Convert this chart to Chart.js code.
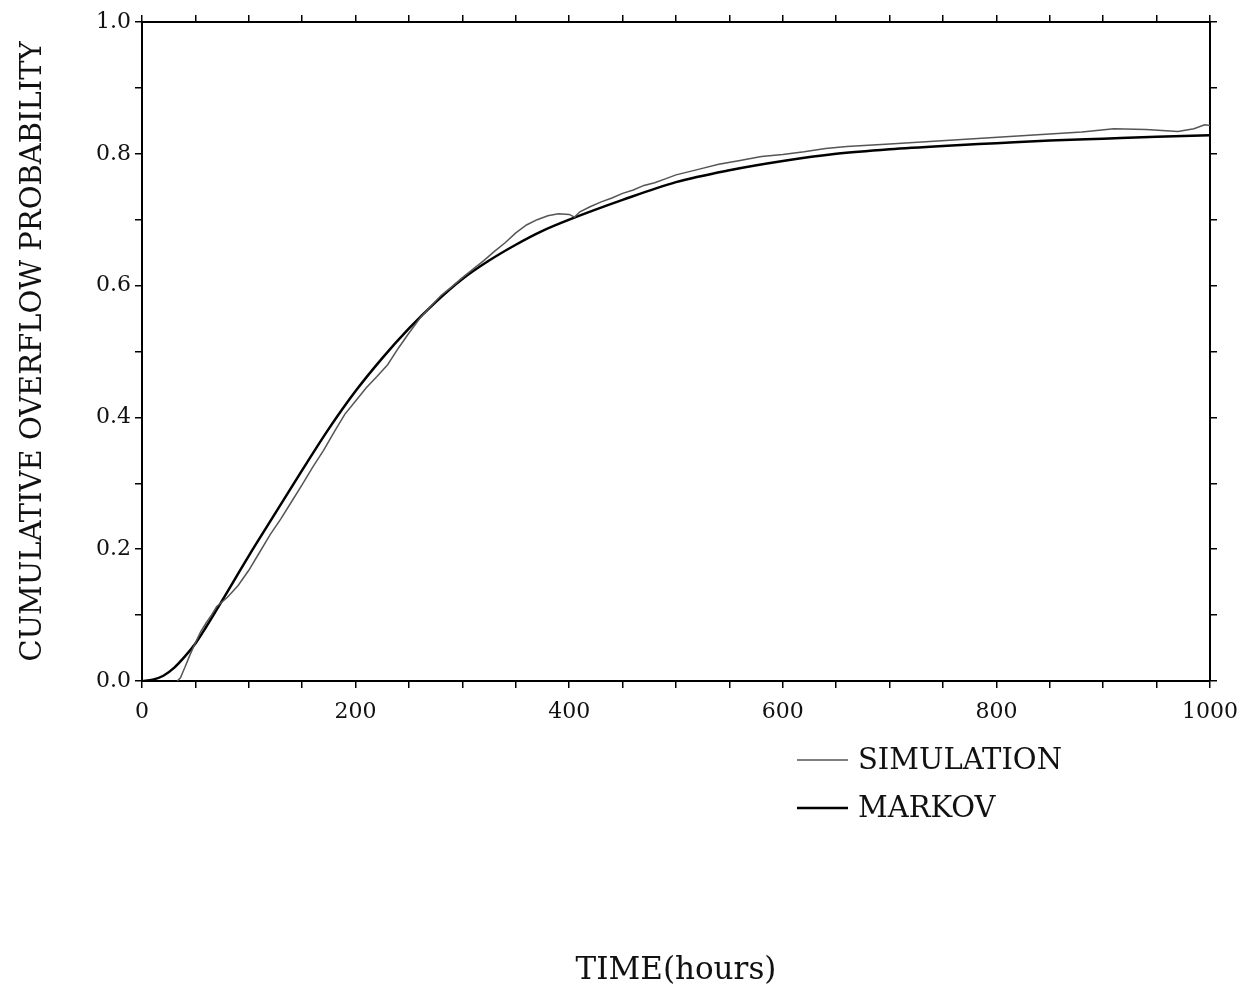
<!DOCTYPE html>
<html>
<head>
<meta charset="utf-8">
<script src="https://cdn.jsdelivr.net/npm/chart.js@4.4.1/dist/chart.umd.min.js"></script>
<style>
  body { margin: 0; background: #fff; }
  #wrap { width: 1251px; height: 996px; }
</style>
</head>
<body>
<div id="wrap"><canvas id="overflowChart" width="1251" height="996"></canvas></div>
<script>
        // time in hours, cumulative overflow probability
        const markovTime = [0, 10, 20, 30, 40, 50, 60, 75, 100, 125, 150, 175, 200, 225, 250, 275, 300, 325, 350, 375, 400, 450, 500, 550, 600, 650, 700, 750, 800, 850, 900, 950, 1000];
        const markovProb = [0, 0.002, 0.008, 0.02, 0.037, 0.057, 0.082, 0.122, 0.19, 0.255, 0.32, 0.383, 0.44, 0.49, 0.535, 0.575, 0.61, 0.638, 0.662, 0.683, 0.70, 0.73, 0.757, 0.775, 0.789, 0.80, 0.807, 0.812, 0.816, 0.82, 0.823, 0.826, 0.828];

        const simTime = [33, 36, 40, 45, 50, 55, 60, 65, 70, 80, 90, 100, 110, 120, 130, 140, 150, 160, 170, 180, 190, 200, 210, 220, 230, 240, 250, 260, 270, 280, 290, 300, 310, 320, 330, 340, 350, 360, 370, 380, 390, 400, 405, 410, 420, 430, 440, 450, 460, 470, 480, 490, 500, 520, 540, 560, 580, 600, 620, 640, 660, 680, 700, 730, 760, 790, 820, 850, 880, 910, 940, 970, 985, 995, 1000];
        const simProb = [0, 0.005, 0.02, 0.04, 0.058, 0.075, 0.088, 0.1, 0.113, 0.127, 0.145, 0.168, 0.195, 0.222, 0.246, 0.272, 0.298, 0.325, 0.35, 0.378, 0.405, 0.425, 0.445, 0.462, 0.48, 0.505, 0.528, 0.55, 0.568, 0.585, 0.598, 0.612, 0.625, 0.638, 0.652, 0.665, 0.68, 0.692, 0.70, 0.706, 0.709, 0.708, 0.704, 0.712, 0.72, 0.727, 0.733, 0.74, 0.745, 0.752, 0.756, 0.762, 0.768, 0.776, 0.784, 0.79, 0.796, 0.799, 0.803, 0.808, 0.811, 0.813, 0.815, 0.818, 0.821, 0.824, 0.827, 0.83, 0.833, 0.838, 0.837, 0.834, 0.838, 0.844, 0.843];

        const xLabelTicks = [0, 200, 400, 600, 800, 1000];
        const yLabelTicks = [0, 0.2, 0.4, 0.6, 0.8, 1.0];

        const serif = "'DejaVu Serif', 'Liberation Serif', serif";

        function toPoints(xs, ys) {
            return xs.map((x, i) => ({ x: x, y: ys[i] }));
        }

        // legend below the plot, right side
        const legendBelow = {
            id: 'legendBelow',
            afterDraw(chart) {
                const c = chart.ctx;
                const rows = [760, 808];
                c.save();
                chart.data.datasets.forEach((ds, i) => {
                    const y = rows[i];
                    c.strokeStyle = ds.borderColor;
                    c.lineWidth = ds.borderWidth;
                    c.beginPath();
                    c.moveTo(797, y);
                    c.lineTo(848, y);
                    c.stroke();
                    c.fillStyle = '#111';
                    c.font = '29px ' + serif;
                    c.textBaseline = 'middle';
                    c.fillText(ds.label, 858, y + 1);
                });
                c.restore();
            }
        };

        const axisLine = { display: true, color: '#000', width: 2 };
        const tickGrid = { drawOnChartArea: false, drawTicks: true, tickLength: 7, color: '#000', lineWidth: 1.5 };

        const ctx = document.getElementById('overflowChart').getContext('2d');
        const chart = new Chart(ctx, {
            type: 'line',
            data: {
                datasets: [
                    {
                        label: 'SIMULATION',
                        data: toPoints(simTime, simProb),
                        borderColor: '#555',
                        borderWidth: 1.5,
                        pointRadius: 0,
                        tension: 0,
                        xAxisID: 'x',
                        yAxisID: 'y'
                    },
                    {
                        label: 'MARKOV',
                        data: toPoints(markovTime, markovProb),
                        borderColor: '#000',
                        borderWidth: 2.5,
                        pointRadius: 0,
                        cubicInterpolationMode: 'monotone',
                        xAxisID: 'x',
                        yAxisID: 'y'
                    }
                ]
            },
            options: {
                responsive: false,
                animation: false,
                layout: { padding: 0 },
                plugins: {
                    legend: { display: false },
                    tooltip: { enabled: false }
                },
                scales: {
                    x: {
                        type: 'linear',
                        position: 'bottom',
                        min: 0,
                        max: 1000,
                        border: axisLine,
                        grid: tickGrid,
                        ticks: {
                            stepSize: 50,
                            autoSkip: false,
                            maxRotation: 0,
                            padding: 11,
                            color: '#111',
                            font: { family: serif, size: 22 },
                            callback: v => xLabelTicks.includes(v) ? String(v) : ''
                        },
                        title: {
                            display: true,
                            text: 'TIME(hours)',
                            color: '#111',
                            font: { family: serif, size: 31 },
                            padding: { top: 0, bottom: 6 }
                        },
                        afterFit: s => { s.height = 315; }
                    },
                    x2: {
                        type: 'linear',
                        position: 'top',
                        min: 0,
                        max: 1000,
                        border: axisLine,
                        grid: tickGrid,
                        ticks: { stepSize: 50, autoSkip: false, callback: () => '' },
                        afterFit: s => { s.height = 22; }
                    },
                    y: {
                        type: 'linear',
                        position: 'left',
                        min: 0,
                        max: 1.0,
                        border: axisLine,
                        grid: tickGrid,
                        ticks: {
                            stepSize: 0.1,
                            autoSkip: false,
                            padding: 4,
                            color: '#111',
                            font: { family: serif, size: 22 },
                            callback: v => {
                                const r = Math.round(v * 10) / 10;
                                return yLabelTicks.some(t => Math.abs(t - r) < 1e-9) ? r.toFixed(1) : '';
                            }
                        },
                        title: {
                            display: true,
                            text: 'CUMULATIVE OVERFLOW PROBABILITY',
                            color: '#111',
                            font: { family: serif, size: 29 },
                            padding: { top: 16, bottom: 0 }
                        },
                        afterFit: s => { s.width = 142; }
                    },
                    y2: {
                        type: 'linear',
                        position: 'right',
                        min: 0,
                        max: 1.0,
                        border: axisLine,
                        grid: tickGrid,
                        ticks: { stepSize: 0.1, autoSkip: false, callback: () => '' },
                        afterFit: s => { s.width = 41; }
                    }
                }
            },
            plugins: [legendBelow]
        });
</script>
</body>
</html>
